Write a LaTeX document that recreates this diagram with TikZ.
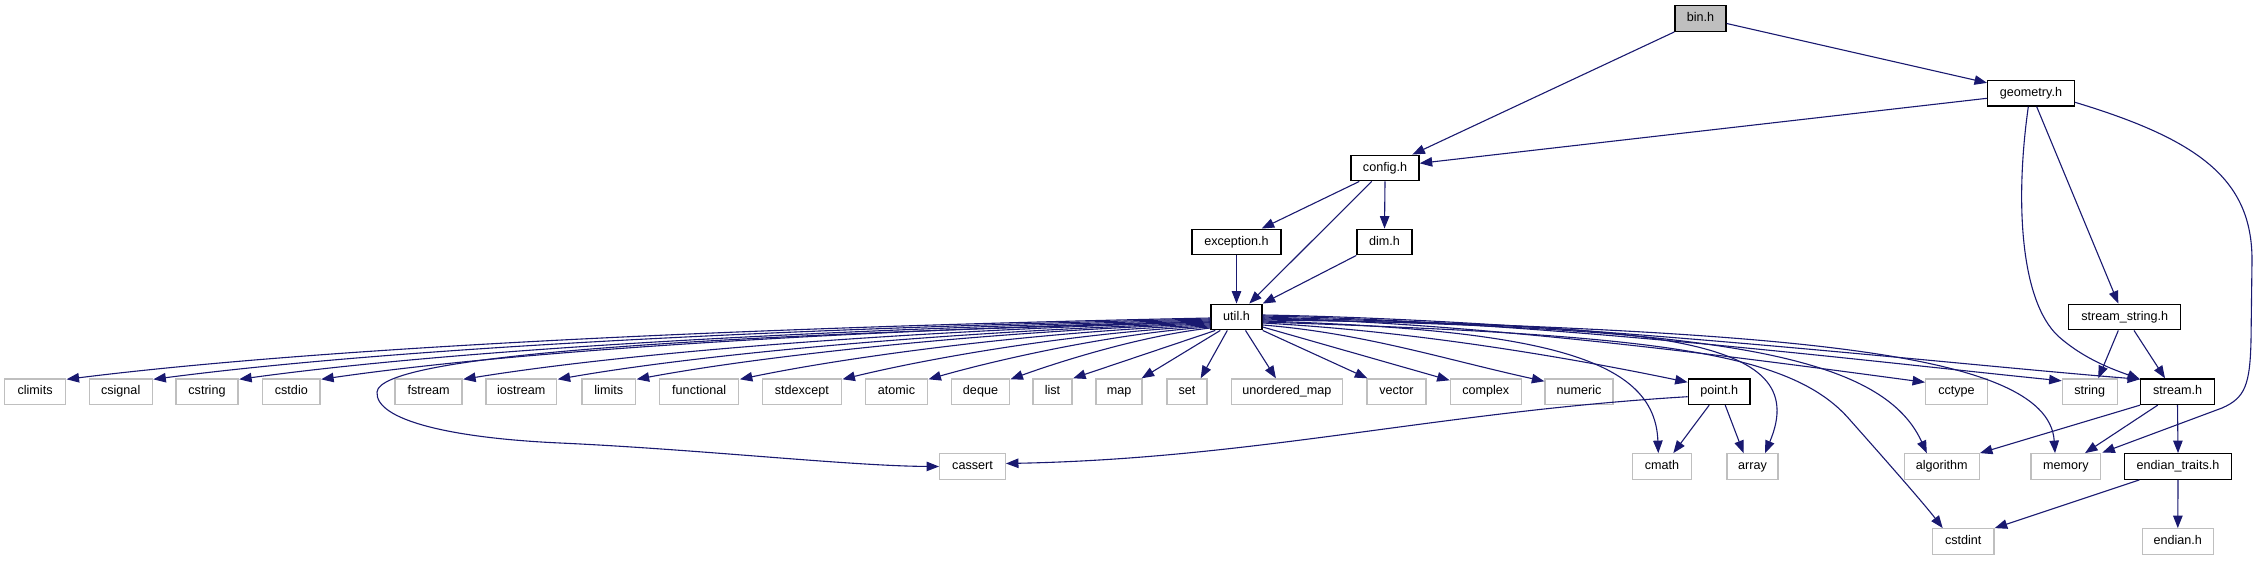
\documentclass[tikz,border=0pt]{standalone}
\usepackage{fontspec}
\setmainfont{Liberation Sans}
\usetikzlibrary{arrows.meta,calc}
\definecolor{edgec}{HTML}{191970}
\definecolor{leafc}{HTML}{BFBFBF}
\begin{document}
\begin{tikzpicture}[x=1pt,y=-1pt,
  box/.style={draw=black, line width=1.4pt, fill=white, inner sep=0pt, minimum height=25.5pt, text height=9pt, text depth=2.6pt, font=\fontsize{12.6}{14}\selectfont},
  leaf/.style={box, draw=leafc, line width=1.3pt},
  mainbox/.style={box, fill=leafc},
  dep/.style={color=edgec, line width=1.1pt, -{Triangle[length=12.5pt,width=9.5pt]}},
]
\useasboundingbox (0,0) rectangle (2259,560);
% project headers
\node[mainbox, minimum width=51pt] (bin) at (1700.5,18.5) {bin.h};
\node[box, minimum width=86.6pt] (geometry) at (2031,93.3) {geometry.h};
\node[box, minimum width=68pt] (config) at (1385,168) {config.h};
\node[box, minimum width=89pt] (exception) at (1236.5,242) {exception.h};
\node[box, minimum width=55pt] (dim) at (1384.5,242) {dim.h};
\node[box, minimum width=51pt] (util) at (1236.5,317) {util.h};
\node[box, minimum width=112pt] (sstring) at (2124.7,317) {stream\_string.h};
% row 1
\node[leaf, minimum width=60.6pt] (climits) at (35.1,391.7) {climits};
\node[leaf, minimum width=63pt] (csignal) at (120.7,391.7) {csignal};
\node[leaf, minimum width=62pt] (cstring) at (207,391.7) {cstring};
\node[leaf, minimum width=57.3pt] (cstdio) at (291.35,391.7) {cstdio};
\node[leaf, minimum width=67pt] (fstream) at (428.5,391.7) {fstream};
\node[leaf, minimum width=70.5pt] (iostream) at (521.25,391.7) {iostream};
\node[leaf, minimum width=53.5pt] (limits) at (608.75,391.7) {limits};
\node[leaf, minimum width=79pt] (functional) at (699.2,391.7) {functional};
\node[leaf, minimum width=79pt] (stdexcept) at (801.8,391.7) {stdexcept};
\node[leaf, minimum width=61.6pt] (atomic) at (896.5,391.7) {atomic};
\node[leaf, minimum width=57.6pt] (deque) at (980.5,391.7) {deque};
\node[leaf, minimum width=39pt] (list) at (1052.5,391.7) {list};
\node[leaf, minimum width=46pt] (map) at (1119,391.7) {map};
\node[leaf, minimum width=40pt] (set) at (1187,391.7) {set};
\node[leaf, minimum width=110.8pt] (umap) at (1286.9,391.7) {unordered\_map};
\node[leaf, minimum width=59pt] (vector) at (1396.5,391.7) {vector};
\node[leaf, minimum width=71pt] (complex) at (1485.8,391.7) {complex};
\node[leaf, minimum width=68pt] (numeric) at (1579,391.7) {numeric};
\node[box, minimum width=61.7pt] (point) at (1719.2,391.7) {point.h};
\node[leaf, minimum width=61.6pt] (cctype) at (1956.5,391.7) {cctype};
\node[leaf, minimum width=55pt] (string) at (2089.8,391.7) {string};
\node[box, minimum width=73.6pt] (stream) at (2177.5,391.7) {stream.h};
% row 2
\node[leaf, minimum width=65.6pt] (cassert) at (972.5,466.5) {cassert};
\node[leaf, minimum width=58.6pt] (cmath) at (1662,466.5) {cmath};
\node[leaf, minimum width=51pt] (array) at (1752.5,466.5) {array};
\node[leaf, minimum width=75pt] (algorithm) at (1941.8,466.5) {algorithm};
\node[leaf, minimum width=69.7pt] (memory) at (2065.8,466.5) {memory};
\node[box, minimum width=106.6pt] (etraits) at (2178,466.5) {endian\_traits.h};
% row 3
\node[leaf, minimum width=61.7pt] (cstdint) at (1963.2,541.5) {cstdint};
\node[leaf, minimum width=71pt] (endian) at (2177.8,541.5) {endian.h};

% top edges
\draw[dep] (bin.south west) -- ($(config.north east)+(-7.3,0)$);
\draw[dep] ($(bin.east)+(0,5)$) -- ($(geometry.north west)+(0,3)$);
\draw[dep] ($(geometry.west)+(0,5)$) -- ($(config.east)+(0,-4.7)$);
\draw[dep] ($(config.south)+(-25.7,0)$) -- ($(exception.north)+(25.2,0)$);
\draw[dep] ($(config.south)+(-13.3,0)$) -- ($(util.north)+(12.8,0)$);
\draw[dep] (config.south) -- (dim.north);
\draw[dep] (exception.south) -- (util.north);
\draw[dep] (dim.south west) -- (util.north east);

% util.h left fan
\draw[dep] ($(util.west)+(0,1)$) .. controls +(-400,8) and +(280,-35) .. ($(climits.north east)+(0.5,1)$);
\draw[dep] ($(util.west)+(0,2)$) .. controls +(-370,8) and +(260,-34) .. ($(csignal.north east)+(0.5,1)$);
\draw[dep] ($(util.west)+(0,3)$) .. controls +(-340,8) and +(240,-33) .. ($(cstring.north east)+(0.5,1)$);
\draw[dep] ($(util.west)+(0,4)$) .. controls +(-310,8) and +(220,-32) .. ($(cstdio.north east)+(0.5,1)$);
\draw[dep] ($(util.west)+(0,5)$) .. controls +(-260,7) and +(185,-30) .. ($(fstream.north east)+(0.5,1)$);
\draw[dep] ($(util.west)+(0,6)$) .. controls +(-230,7) and +(160,-28) .. ($(iostream.north east)+(0.5,1)$);
\draw[dep] ($(util.west)+(0,7)$) .. controls +(-200,6) and +(140,-26) .. ($(limits.north east)+(0.5,1)$);
\draw[dep] ($(util.west)+(0,8)$) .. controls +(-165,6) and +(115,-24) .. ($(functional.north east)+(0.5,1)$);
\draw[dep] ($(util.west)+(0,9)$) .. controls +(-130,6) and +(90,-22) .. ($(stdexcept.north east)+(0.5,1)$);
\draw[dep] ($(util.west)+(0,10)$) .. controls +(-95,6) and +(70,-20) .. ($(atomic.north east)+(0.5,1)$);
\draw[dep] ($(util.west)+(0,11)$) .. controls +(-70,8) and +(50,-18) .. ($(deque.north east)+(0.5,1)$);
\draw[dep] ($(util.west)+(0,5)$) .. controls (700,335) and (380,355) .. (377,392) .. controls (375,420) and (450,438) .. (560,443) .. controls (700,449.4) and (850,466) .. (cassert.west);
\draw[dep] ($(util.south west)+(5,0)$) -- ($(list.north east)+(0.5,0)$);
\draw[dep] ($(util.south west)+(10,0)$) -- ($(map.north east)+(-1,0)$);
\draw[dep] ($(util.south west)+(17,0)$) -- ($(set.north east)+(-7,0)$);
\draw[dep] ($(util.south)+(9,0)$) -- ($(umap.north)+(-11,0)$);

% util.h right fan
\draw[dep] (util.south east) -- ($(vector.north west)+(1,0)$);
\draw[dep] ($(util.east)+(0,10)$) -- ($(complex.north west)+(0,2)$);
\draw[dep] ($(util.east)+(0,8)$) .. controls +(100,8) and +(-100,-22) .. ($(numeric.north west)+(0,3)$);
\draw[dep] ($(util.east)+(0,6)$) .. controls +(150,8) and +(-120,-25) .. ($(point.north west)+(0,4)$);
\draw[dep] ($(util.east)+(0,4)$) .. controls (1550,330) and (1655,360) .. ($(cmath.north)+(-3.7,0)$);
\draw[dep] ($(util.east)+(0,3)$) .. controls (1650,325) and (1815,335) .. ($(array.north)+(12.5,0)$);
\draw[dep] ($(util.east)+(0,5)$) .. controls (1650,335) and (1790,350) .. (1850,420) .. controls (1890,465) and (1925,505) .. ($(cstdint.north west)+(11,0)$);
\draw[dep] ($(util.east)+(0,2)$) .. controls (1700,328) and (1880,350) .. ($(algorithm.north)+(-15,0)$);
\draw[dep] (util.east) .. controls (1750,332) and (2048,345) .. ($(memory.north)+(-10.8,0)$);
\draw[dep] ($(util.east)+(0,1)$) .. controls +(230,5) and +(-150,-20) .. ($(cctype.north west)+(0,4)$);
\draw[dep] ($(util.east)+(0,-1)$) .. controls +(280,5) and +(-180,-18) .. ($(string.north west)+(0,2.5)$);
\draw[dep] ($(util.east)+(0,-2)$) .. controls +(300,5) and +(-200,-16) .. ($(stream.north west)+(0,1)$);

% other edges
\draw[dep] ($(point.west)+(0,5)$) .. controls +(-250,15) and +(250,-5) .. ($(cassert.east)+(0,-3)$);
\draw[dep] ($(point.south)+(-10,0)$) -- ($(cmath.north)+(11.3,0)$);
\draw[dep] ($(point.south)+(6,0)$) -- ($(array.north)+(-9,0)$);
\draw[dep] ($(geometry.south)+(5.7,0)$) -- ($(sstring.north)+(-6.4,0)$);
\draw[dep] ($(geometry.south)+(-2.7,0)$) .. controls (2015,200) and (2020,300) .. (2058,336) .. controls (2085,360) and (2115,370) .. ($(stream.north west)+(0,1)$);
\draw[dep] ($(geometry.east)+(0,9)$) .. controls (2200,140) and (2252,180) .. (2252,260) -- (2251,340) .. controls (2250,385) and (2245,398) .. (2222,408) -- ($(memory.north east)+(1,-0.5)$);
\draw[dep] ($(sstring.south)+(-6.4,0)$) -- ($(string.north)+(8.5,0)$);
\draw[dep] ($(sstring.south)+(9.3,0)$) -- ($(stream.north)+(-12.5,0)$);
\draw[dep] (stream.south west) -- (algorithm.north east);
\draw[dep] ($(stream.south)+(-19.8,0)$) -- ($(memory.north)+(19.2,0)$);
\draw[dep] (stream.south) -- (etraits.north);
\draw[dep] ($(etraits.south west)+(15.3,0)$) -- (cstdint.north east);
\draw[dep] (etraits.south) -- (endian.north);
\end{tikzpicture}
\end{document}
